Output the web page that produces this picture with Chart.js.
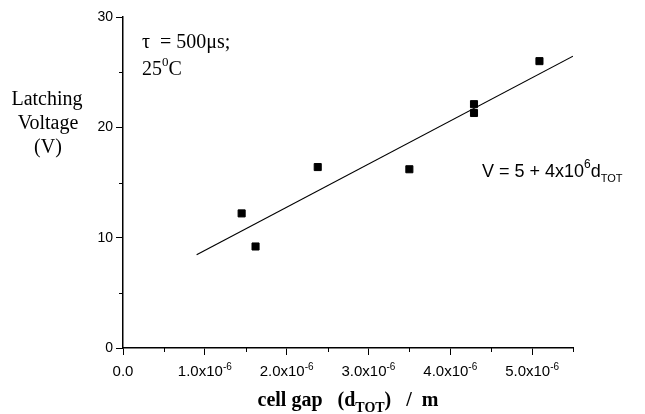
<!DOCTYPE html>
<html>
<head>
<meta charset="utf-8">
<script src="https://cdn.jsdelivr.net/npm/chart.js@4.4.1/dist/chart.umd.min.js"></script>
<style>
    html, body { margin: 0; padding: 0; background: #fff; }
    #wrap { width: 645px; height: 414px; position: relative; }
</style>
</head>
<body>
<div id="wrap"><canvas id="latchChart"></canvas></div>
<script>
// Measured points: cell gap (m) vs latching voltage (V)
const gapValues = [1.45e-6, 1.62e-6, 2.38e-6, 3.50e-6, 4.29e-6, 4.29e-6, 5.09e-6];
const voltageValues = [12.2, 9.2, 16.4, 16.2, 22.1, 21.3, 26.0];

// Linear fit line end points
const fitGap = [0.9e-6, 5.5e-6];
const fitVoltage = [8.45, 26.45];

// Axis ticks
const xTickValues = [0, 1e-6, 2e-6, 3e-6, 4e-6, 5e-6];
const xTickLabels = ['0.0', '1.0x10', '2.0x10', '3.0x10', '4.0x10', '5.0x10'];
const xTickExps = ['', '-6', '-6', '-6', '-6', '-6'];
const xMinorValues = [0.5e-6, 1.5e-6, 2.5e-6, 3.5e-6, 4.5e-6, 5.5e-6];
const yTickValues = [0, 10, 20, 30];
const yMinorValues = [5, 15, 25];

const SERIF = '"Liberation Serif", "Times New Roman", serif';
const SANS = '"Liberation Sans", Arial, sans-serif';

// draw a row of text pieces (for super/subscripts)
function drawRuns(ctx, runs, x, y, align) {
    let total = 0;
    runs.forEach(r => { ctx.font = r.font; total += ctx.measureText(r.text).width; });
    let cx = align === 'center' ? x - total / 2 : x;
    ctx.textBaseline = 'alphabetic';
    ctx.textAlign = 'left';
    runs.forEach(r => {
        ctx.font = r.font;
        ctx.fillText(r.text, cx, y + (r.dy || 0));
        cx += ctx.measureText(r.text).width;
    });
}

const textPlugin = {
    id: 'textPlugin',
    afterDraw(chart) {
        const ctx = chart.ctx;
        const xs = chart.scales.x;
        const ys = chart.scales.y;
        ctx.save();
        ctx.fillStyle = '#000';
        ctx.strokeStyle = '#000';
        ctx.lineWidth = 1;

        // minor ticks
        ctx.beginPath();
        xMinorValues.forEach(v => {
            const px = Math.round(xs.getPixelForValue(v)) + 0.5;
            ctx.moveTo(px, ys.bottom);
            ctx.lineTo(px, ys.bottom + 4);
        });
        yMinorValues.forEach(v => {
            const py = Math.round(ys.getPixelForValue(v)) + 0.5;
            ctx.moveTo(xs.left, py);
            ctx.lineTo(xs.left - 4, py);
        });
        ctx.stroke();

        // x tick labels with exponents
        xTickValues.forEach((v, i) => {
            const runs = [{ text: xTickLabels[i], font: '15px ' + SANS }];
            if (xTickExps[i]) runs.push({ text: xTickExps[i], font: '10px ' + SANS, dy: -6 });
            drawRuns(ctx, runs, xs.getPixelForValue(v), 376, 'center');
        });

        // y axis title
        const yFont = '20px ' + SERIF;
        drawRuns(ctx, [{ text: 'Latching', font: yFont }], 47, 105, 'center');
        drawRuns(ctx, [{ text: 'Voltage', font: yFont }], 48, 129, 'center');
        drawRuns(ctx, [{ text: '(V)', font: yFont }], 48, 153, 'center');

        // x axis title
        const bFont = 'bold 20px ' + SERIF;
        const bSub = 'bold 14px ' + SERIF;
        drawRuns(ctx, [
            { text: 'cell gap   (d', font: bFont },
            { text: 'TOT', font: bSub, dy: 6 },
            { text: ')   /  m', font: bFont }
        ], (xs.left + xs.right) / 2, 406, 'center');

        // conditions
        const sFont = '20px ' + SERIF;
        drawRuns(ctx, [{ text: '\u03c4  = 500\u03bcs;', font: sFont }], 142, 48, 'left');
        drawRuns(ctx, [
            { text: '25', font: sFont },
            { text: '0', font: '13px ' + SERIF, dy: -9 },
            { text: 'C', font: sFont }
        ], 142, 75, 'left');

        // fit equation
        const eFont = '18px ' + SANS;
        drawRuns(ctx, [
            { text: 'V = 5 + 4x10', font: eFont },
            { text: '6', font: '12px ' + SANS, dy: -9 },
            { text: 'd', font: eFont },
            { text: 'TOT', font: '11px ' + SANS, dy: 5 }
        ], 482, 177, 'left');

        ctx.restore();
    }
};

const ctx = document.getElementById('latchChart');

new Chart(ctx, {
    type: 'scatter',
    data: {
        datasets: [
            {
                label: 'Measured',
                data: gapValues.map((g, i) => ({ x: g, y: voltageValues[i] })),
                pointStyle: 'rect',
                pointRadius: 5,
                pointBorderWidth: 1,
                backgroundColor: '#000',
                borderColor: '#000'
            },
            {
                label: 'Fit',
                data: fitGap.map((g, i) => ({ x: g, y: fitVoltage[i] })),
                showLine: true,
                pointRadius: 0,
                borderColor: '#000',
                borderWidth: 1.2,
                fill: false
            }
        ]
    },
    options: {
        responsive: true,
        maintainAspectRatio: false,
        animation: false,
        layout: {
            padding: { left: 0, top: 17, right: 72, bottom: 0 }
        },
        plugins: {
            legend: { display: false },
            tooltip: { enabled: false }
        },
        scales: {
            x: {
                type: 'linear',
                min: 0,
                max: 5.5e-6,
                afterBuildTicks: function(scale) {
                    scale.ticks = xTickValues.map(v => ({ value: v }));
                },
                afterFit: function(scale) {
                    scale.height = 66;
                },
                ticks: {
                    display: false
                },
                grid: {
                    drawOnChartArea: false,
                    drawTicks: true,
                    tickLength: 7,
                    color: '#000'
                },
                border: { display: true, color: '#000', width: 1.5 }
            },
            y: {
                min: 0,
                max: 30,
                afterBuildTicks: function(scale) {
                    scale.ticks = yTickValues.map(v => ({ value: v }));
                },
                afterFit: function(scale) {
                    scale.width = 123;
                },
                ticks: {
                    color: '#000',
                    padding: 3,
                    font: { family: SANS, size: 14 }
                },
                grid: {
                    drawOnChartArea: false,
                    drawTicks: true,
                    tickLength: 7,
                    color: '#000'
                },
                border: { display: true, color: '#000', width: 1.5 }
            }
        }
    },
    plugins: [textPlugin]
});
</script>
</body>
</html>
